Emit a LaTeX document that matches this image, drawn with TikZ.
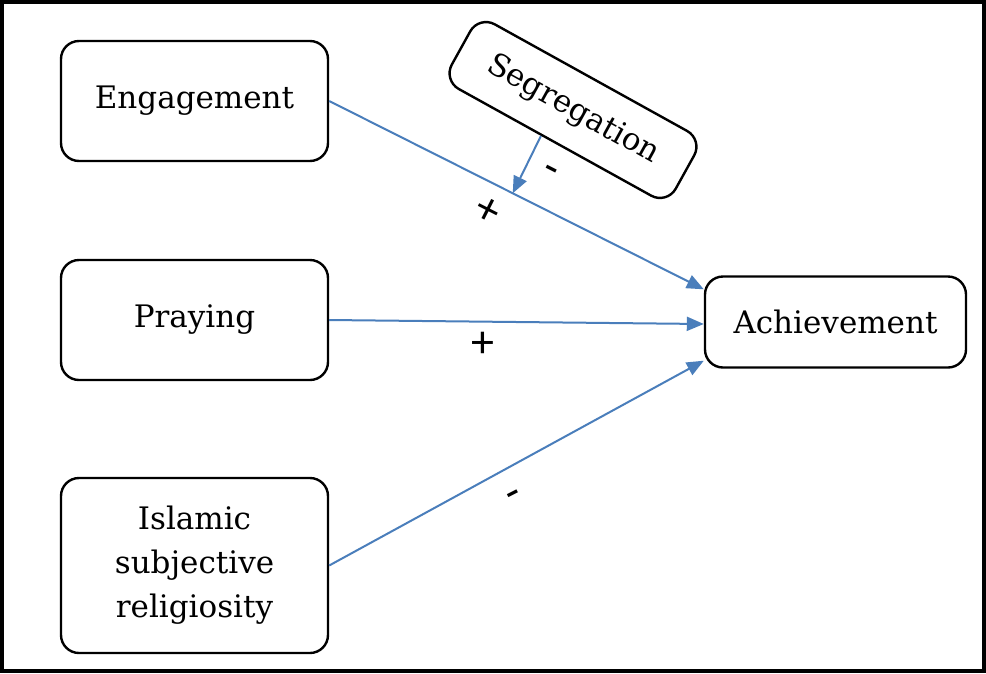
\documentclass[tikz,border=0pt]{standalone}
\usepackage{fontspec}
\setmainfont{DejaVu Serif}
\newfontfamily\signfont{Carlito}
\usetikzlibrary{arrows.meta,calc}
\definecolor{linkblue}{HTML}{4A7EBB}
\tikzset{
  factor/.style={draw, line width=2.4pt, rounded corners=18pt, align=center,
    font=\fontsize{31}{44}\selectfont, inner sep=0pt},
  link/.style={draw=linkblue, line width=2pt,
    -{Triangle[length=17pt,width=14pt]}},
  sign/.style={font=\signfont\fontsize{46}{46}\selectfont, inner sep=0pt}
}
\begin{document}
\begin{tikzpicture}[x=1pt, y=-1pt]
  \useasboundingbox (0,0) rectangle (986,673);
  \draw [line width=4.5pt] (2,2) rectangle (984,671);
  % boxes
  \node [factor, minimum width=267pt, minimum height=120pt] (eng) at (194.5,101) {Engagement};
  \node [factor, minimum width=267pt, minimum height=120pt] (pray) at (194.5,320) {Praying};
  \node [factor, minimum width=267pt, minimum height=175pt] (isr) at (194.5,565.5)
    {Islamic\\subjective\\religiosity};
  \node [factor, minimum width=261pt, minimum height=91pt] (ach) at (835.5,322) {Achievement};
  \node [factor, minimum width=256pt, minimum height=74pt, rotate=-29] (seg) at (573,110) {Segregation};
  % paths
  \coordinate (ach1) at ([yshift=-14pt]ach.north west);
  \coordinate (ach3) at ([yshift=8pt]ach.south west);
  \draw [link] (eng.east) -- coordinate [pos=0.49] (mod) (ach1);
  \draw [link] (pray.east) -- ([yshift=-2pt]ach.west);
  \draw [link] (isr.east) -- (ach3);
  \draw [link] ($(seg.south)!0.12!(seg.south west)$) -- (mod);
  % signs
  \node [sign, rotate=-27] (s1) at (487,211) {+};
  \node [sign, rotate=-27] (s2) at (549,174) {-};
  \node [sign] (s3) at (483,345) {+};
  \node [sign, rotate=27] (s4) at (515,499) {-};
\end{tikzpicture}
\end{document}
